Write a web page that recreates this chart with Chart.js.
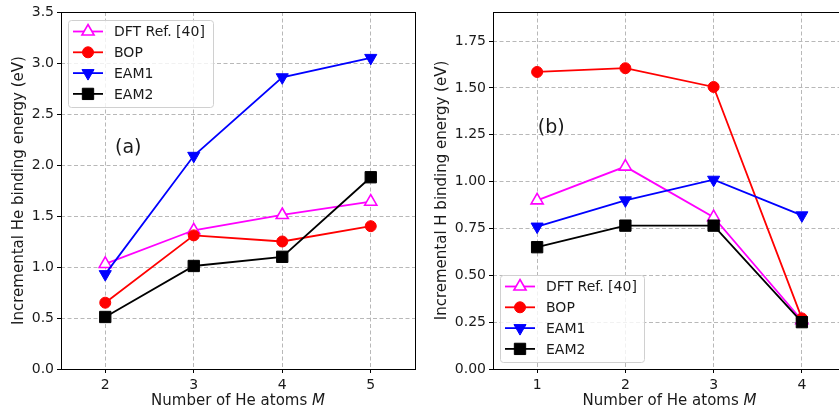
<!DOCTYPE html>
<html>
<head>
<meta charset="utf-8">
<script src="https://cdn.jsdelivr.net/npm/chart.js@4.4.1/dist/chart.umd.min.js"></script>
<style>
  body { margin: 0; background: #fff; }
  #wrap { position: relative; width: 839px; height: 414px; overflow: hidden; }
  canvas { position: absolute; top: 0; }
</style>
</head>
<body>
<div id="wrap">
  <!-- the x scale keeps ~9px on its right, so the canvases are 9px wider than the plot box -->
  <canvas id="chartA" width="424" height="414" style="left:0"></canvas>
  <canvas id="chartB" width="435" height="414" style="left:420px"></canvas>
</div>
<script>
// ---- data ----
const seriesNames = ['DFT Ref. [40]', 'BOP', 'EAM1', 'EAM2'];

// panel (a): incremental He binding energy
const heAtomsA = [2, 3, 4, 5];
const dftA  = [1.03, 1.36, 1.51, 1.64];
const bopA  = [0.65, 1.31, 1.25, 1.40];
const eam1A = [0.93, 2.09, 2.86, 3.05];
const eam2A = [0.51, 1.01, 1.10, 1.88];
const yTicksA = [0, 0.5, 1.0, 1.5, 2.0, 2.5, 3.0, 3.5];

// panel (b): incremental H binding energy
const heAtomsB = [1, 2, 3, 4];
const dftB  = [0.90, 1.08, 0.81, 0.26];
const bopB  = [1.585, 1.605, 1.505, 0.27];
const eam1B = [0.76, 0.90, 1.01, 0.82];
const eam2B = [0.65, 0.765, 0.765, 0.25];
const yTicksB = [0, 0.25, 0.5, 0.75, 1.0, 1.25, 1.5, 1.75];

const FONT = '"DejaVu Sans", Verdana, sans-serif';
const TEXT = '#1a1a1a';

const styles = [
  { color: '#ff00ff', pointStyle: 'triangle', rotation: 0,   radius: 7,   fill: '#ffffff', bw: 1.6 },
  { color: '#ff0000', pointStyle: 'circle',   rotation: 0,   radius: 5.5, fill: '#ff0000', bw: 1 },
  { color: '#0000ff', pointStyle: 'triangle', rotation: 180, radius: 7,   fill: '#0000ff', bw: 1 },
  { color: '#000000', pointStyle: 'rect',     rotation: 0,   radius: 8,   fill: '#000000', bw: 1 },
];

function toPoints(xs, ys) {
  return xs.map((x, i) => ({ x: x, y: ys[i] }));
}

function buildDatasets(xs, series) {
  return series.map((ys, i) => {
    const s = styles[i];
    return {
      label: seriesNames[i],
      data: toPoints(xs, ys),
      borderColor: s.color,
      borderWidth: 1.8,
      pointStyle: s.pointStyle,
      pointRotation: s.rotation,
      pointRadius: s.radius,
      pointHoverRadius: s.radius,
      pointBackgroundColor: s.fill,
      pointBorderColor: s.color,
      pointBorderWidth: s.bw,
      fill: false,
      tension: 0,
      order: series.length - i, // later series on top, like matplotlib
    };
  });
}

// frame, axis titles, panel label and the in-axes legend
const decorPlugin = {
  id: 'decor',
  afterDraw(chart, args, opts) {
    const ctx = chart.ctx;
    const a = chart.chartArea;
    ctx.save();

    // axes frame
    ctx.strokeStyle = '#000';
    ctx.lineWidth = 1;
    ctx.setLineDash([]);
    ctx.strokeRect(Math.round(a.left) + 0.5, Math.round(a.top) + 0.5,
                   Math.round(a.right - a.left), Math.round(a.bottom - a.top));

    // x title with italic M
    ctx.fillStyle = TEXT;
    ctx.textBaseline = 'middle';
    ctx.textAlign = 'left';
    const t1 = 'Number of He atoms ';
    const t2 = 'M';
    ctx.font = '15px ' + FONT;
    const w1 = ctx.measureText(t1).width;
    ctx.font = 'italic 15px ' + FONT;
    const w2 = ctx.measureText(t2).width;
    const cx = (a.left + a.right) / 2;
    let x0 = cx - (w1 + w2) / 2;
    ctx.font = '15px ' + FONT;
    ctx.fillText(t1, x0, opts.xTitleY);
    ctx.font = 'italic 15px ' + FONT;
    ctx.fillText(t2, x0 + w1, opts.xTitleY);

    // y title
    ctx.save();
    ctx.translate(opts.yTitleX, (a.top + a.bottom) / 2);
    ctx.rotate(-Math.PI / 2);
    ctx.textAlign = 'center';
    ctx.font = '15px ' + FONT;
    ctx.fillText(opts.yTitle, 0, 0);
    ctx.restore();

    // panel label
    const sx = chart.scales.x, sy = chart.scales.y;
    ctx.textAlign = 'center';
    ctx.font = '19px ' + FONT;
    ctx.fillText(opts.panel, sx.getPixelForValue(opts.panelAt[0]), sy.getPixelForValue(opts.panelAt[1]));

    // legend
    const L = opts.legend;
    ctx.fillStyle = 'rgba(255,255,255,0.8)';
    ctx.strokeStyle = '#d0d0d0';
    ctx.lineWidth = 1;
    ctx.beginPath();
    if (ctx.roundRect) ctx.roundRect(L.x + 0.5, L.y + 0.5, L.w, L.h, 3);
    else ctx.rect(L.x + 0.5, L.y + 0.5, L.w, L.h);
    ctx.fill();
    ctx.stroke();
    chart.data.datasets.forEach((ds, i) => {
      const s = styles[i];
      const yy = L.y + 11.5 + i * 20.8;
      const lx = L.x + 5;
      ctx.strokeStyle = s.color;
      ctx.lineWidth = 1.8;
      ctx.beginPath();
      ctx.moveTo(lx, yy);
      ctx.lineTo(lx + 30, yy);
      ctx.stroke();
      ctx.fillStyle = s.fill;
      ctx.strokeStyle = s.color;
      ctx.lineWidth = s.bw;
      Chart.helpers.drawPoint(ctx, {
        pointStyle: s.pointStyle, rotation: s.rotation, radius: s.radius, borderWidth: s.bw
      }, lx + 15, yy);
      ctx.fillStyle = TEXT;
      ctx.textAlign = 'left';
      ctx.textBaseline = 'middle';
      ctx.font = '14px ' + FONT;
      ctx.fillText(ds.label, L.x + 46, yy + 1);
    });
    ctx.restore();
  }
};

function makeChart(id, cfg) {
  const gridOpts = {
    color: '#b8b8b8',
    lineWidth: 1,
    drawTicks: true,
    tickLength: 4,
    tickColor: '#000',
    tickWidth: 1,
    tickBorderDash: [],
  };
  return new Chart(document.getElementById(id), {
    type: 'line',
    data: { datasets: buildDatasets(cfg.xs, cfg.series) },
    options: {
      responsive: false,
      animation: false,
      devicePixelRatio: 1,
      layout: { padding: { top: 12, right: 0, left: 0, bottom: 0 } },
      plugins: {
        legend: { display: false },
        tooltip: { enabled: false },
        decor: cfg.decor,
      },
      scales: {
        x: {
          type: 'linear',
          min: cfg.xMin,
          max: cfg.xMax,
          afterBuildTicks: (s) => { s.ticks = cfg.xs.map(v => ({ value: v })); },
          afterFit: (s) => { s.height = 45; },
          grid: gridOpts,
          border: { display: false, dash: [4, 2.5] },
          ticks: {
            color: TEXT, padding: 4, font: { family: FONT, size: 14 },
            maxRotation: 0, autoSkip: false,
            callback: (v) => String(v),
          },
        },
        y: {
          type: 'linear',
          min: cfg.yMin,
          max: cfg.yMax,
          afterBuildTicks: (s) => { s.ticks = cfg.yTicks.map(v => ({ value: v })); },
          afterFit: (s) => { s.width = cfg.yAxisWidth; },
          grid: gridOpts,
          border: { display: false, dash: [4, 2.5] },
          ticks: {
            color: TEXT, padding: 3, font: { family: FONT, size: 14 },
            autoSkip: false,
            callback: (v) => v.toFixed(cfg.decimals),
          },
        },
      },
    },
    plugins: [decorPlugin],
  });
}

makeChart('chartA', {
  xs: heAtomsA,
  series: [dftA, bopA, eam1A, eam2A],
  xMin: 1.5, xMax: 5.5,
  yMin: 0, yMax: 3.5, yTicks: yTicksA, decimals: 1,
  yAxisWidth: 61,
  decor: {
    xTitleY: 401, yTitleX: 19,
    yTitle: 'Incremental He binding energy (eV)',
    panel: '(a)', panelAt: [2.26, 2.17],
    legend: { x: 68, y: 20, w: 145, h: 87 },
  },
});

makeChart('chartB', {
  xs: heAtomsB,
  series: [dftB, bopB, eam1B, eam2B],
  xMin: 0.5, xMax: 4.5,
  yMin: 0, yMax: 1.905, yTicks: yTicksB, decimals: 2,
  yAxisWidth: 73,
  decor: {
    xTitleY: 401, yTitleX: 22,
    yTitle: 'Incremental H binding energy (eV)',
    panel: '(b)', panelAt: [1.16, 1.286],
    legend: { x: 80, y: 275, w: 144, h: 87 },
  },
});
</script>
</body>
</html>
